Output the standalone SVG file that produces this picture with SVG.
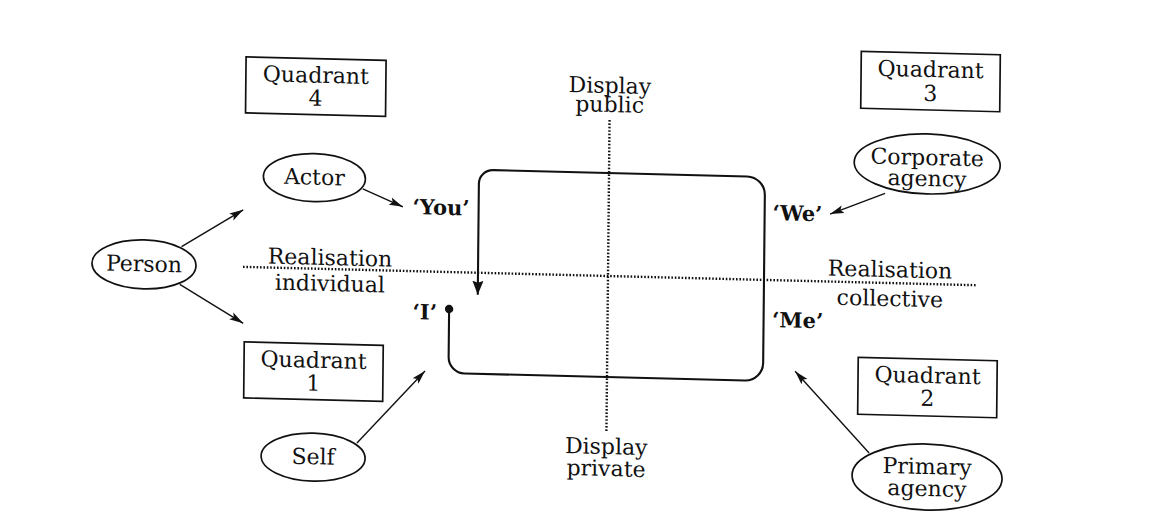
<svg xmlns="http://www.w3.org/2000/svg" width="1157" height="523" viewBox="0 0 1157 523">
<style>
.t{font-family:"DejaVu Serif","Liberation Serif",serif;font-size:22px;text-anchor:middle;fill:#111}
.b{font-family:"DejaVu Serif","Liberation Serif",serif;font-size:21px;font-weight:bold;fill:#111}
.box{fill:none;stroke:#111;stroke-width:1.7}
.ell{fill:#fff;stroke:#111;stroke-width:1.7}
.dot{fill:none;stroke:#111;stroke-width:2.4;stroke-dasharray:1.6 1.8}
.con{fill:none;stroke:#111;stroke-width:1.4;marker-end:url(#ah)}
.loop{fill:none;stroke:#111;stroke-width:2.1;marker-end:url(#ahb)}
</style>
<defs>
<marker id="ah" viewBox="0 0 14 9" refX="14" refY="4.5" markerWidth="14" markerHeight="9" orient="auto" markerUnits="userSpaceOnUse">
<path d="M0,0.5 L14,4.5 L0,8.5 L3,4.5 Z" fill="#111"/>
</marker>
<marker id="ahb" viewBox="0 0 14 11" refX="14" refY="5.5" markerWidth="14" markerHeight="11" orient="auto" markerUnits="userSpaceOnUse">
<path d="M0,0 L14,5.5 L0,11 L2,5.5 Z" fill="#111"/>
</marker>
</defs>
<rect width="1157" height="523" fill="#fff"/>
<g transform="matrix(1 0.025 -0.01 1 2.75 -15.2)">
<g id="axes">
<line class="dot" x1="243" y1="276" x2="977" y2="276"/>
<line class="dot" x1="608" y1="120" x2="608" y2="432"/>
</g>
<g id="axis-labels">
<text class="t" x="608" y="93">Display</text>
<text class="t" x="608" y="112">public</text>
<text class="t" x="608" y="454">Display</text>
<text class="t" x="608" y="476">private</text>
<text class="t" x="330" y="272">Realisation</text>
<text class="t" x="330" y="298">individual</text>
<text class="t" x="890" y="270">Realisation</text>
<text class="t" x="890" y="299">collective</text>
</g>
<g id="quadrant4">
<rect class="box" x="244" y="66" width="140" height="56"/>
<text class="t" x="314" y="90">Quadrant</text>
<text class="t" x="314" y="113">4</text>
</g>
<g id="quadrant3">
<rect class="box" x="859" y="45" width="139" height="57"/>
<text class="t" x="928.5" y="69">Quadrant</text>
<text class="t" x="928.5" y="93">3</text>
</g>
<g id="quadrant1">
<rect class="box" x="245" y="351" width="139" height="56"/>
<text class="t" x="314.5" y="375">Quadrant</text>
<text class="t" x="314.5" y="398">1</text>
</g>
<g id="quadrant2">
<rect class="box" x="859" y="351" width="139" height="57"/>
<text class="t" x="928.5" y="375">Quadrant</text>
<text class="t" x="928.5" y="398">2</text>
</g>
<g id="person">
<ellipse class="ell" cx="144" cy="276" rx="52" ry="24.5"/>
<text class="t" x="144" y="283">Person</text>
</g>
<g id="actor">
<ellipse class="ell" cx="313.5" cy="185" rx="51" ry="24"/>
<text class="t" x="313.5" y="192">Actor</text>
</g>
<g id="self">
<ellipse class="ell" cx="315" cy="464.5" rx="52" ry="24"/>
<text class="t" x="315" y="471.5">Self</text>
</g>
<g id="corporate-agency">
<ellipse class="ell" cx="926" cy="156" rx="73" ry="30"/>
<text class="t" x="926" y="157">Corporate</text>
<text class="t" x="926" y="178">agency</text>
</g>
<g id="primary-agency">
<ellipse class="ell" cx="929" cy="469" rx="75" ry="33"/>
<text class="t" x="929" y="466">Primary</text>
<text class="t" x="929" y="488">agency</text>
</g>
<g id="labels">
<text class="b" x="412" y="219">‘You’</text>
<text class="b" x="413" y="324">‘I’</text>
<text class="b" x="772" y="216">‘We’</text>
<text class="b" x="772.5" y="323">‘Me’</text>
</g>
<g id="connectors">
<path class="loop" d="M449.5,313 L449.5,361 A16,16 0 0 0 465.5,377 L746,377 A18,18 0 0 0 764,359 L764,191 A18,18 0 0 0 746,173 L492,173 A14,14 0 0 0 478,187 L478,298"/>
<circle cx="449.5" cy="313" r="4.2" fill="#111"/>
<line class="con" x1="181.4" y1="257.3" x2="242.7" y2="219"/>
<line class="con" x1="180" y1="295" x2="243.8" y2="332.4"/>
<line class="con" x1="362" y1="195" x2="402.3" y2="212"/>
<line class="con" x1="358.7" y1="449.3" x2="426" y2="375.5"/>
<line class="con" x1="884.2" y1="186.5" x2="829.4" y2="208.5"/>
<line class="con" x1="870.8" y1="446.5" x2="796" y2="366.5"/>
</g>
</g>
</svg>
